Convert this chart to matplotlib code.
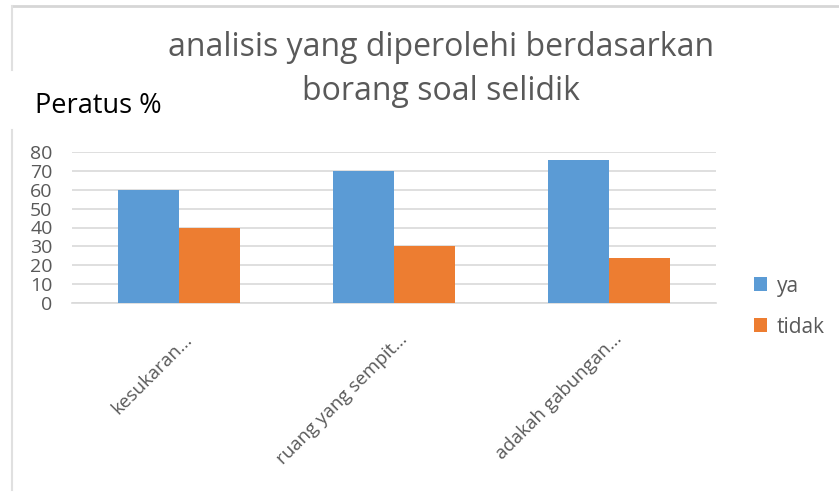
import numpy as np
import matplotlib
matplotlib.use("Agg")
import matplotlib.pyplot as plt
from matplotlib.lines import Line2D
from matplotlib.transforms import offset_copy

plt.rcParams['font.family'] = ['Open Sans', 'DejaVu Sans']

categories = ["kesukaran...", "ruang yang sempit...", "adakah gabungan..."]
ya = [60, 70, 76]
tidak = [40, 30, 24]
yticks = [0, 10, 20, 30, 40, 50, 60, 70, 80]

BLUE = "#5b9bd5"
ORANGE = "#ed7d31"
GRAY_TXT = "#595959"
GRID = "#d9d9d9"

W, H = 839, 495
fig = plt.figure(figsize=(W / 100, H / 100), dpi=100)

# plot area in pixels: x 72..716, y 152..303
ax = fig.add_axes([72 / W, 1 - 303 / H, (716 - 72) / W, (303 - 152) / H])

x = np.arange(len(categories))
bw = 0.284
ax.bar(x - bw / 2, ya, bw, color=BLUE, label="ya", zorder=3)
ax.bar(x + bw / 2, tidak, bw, color=ORANGE, label="tidak", zorder=3)

ax.set_xlim(-0.5, len(categories) - 0.5)
ax.set_ylim(0, 80)
ax.set_yticks(yticks)
ax.yaxis.grid(True, color=GRID, lw=1.2, zorder=0)
ax.tick_params(axis="y", length=0, pad=14, labelsize=14, labelcolor=GRAY_TXT)
ax.set_xticks(x)
ax.set_xticklabels([])
ax.tick_params(axis="x", length=0)
for s in ["top", "right", "left"]:
    ax.spines[s].set_visible(False)
ax.spines["bottom"].set_color(GRID)
ax.spines["bottom"].set_linewidth(1.2)

# slanted category labels, baseline end just right of each group centre
lab_tr = offset_copy(ax.get_xaxis_transform(), fig=fig, x=14, y=-37, units="dots")
for xi, cat in zip(x, categories):
    ax.text(xi, 0, cat, transform=lab_tr, rotation=45, rotation_mode="anchor",
            ha="right", va="baseline", fontsize=13.5, color=GRAY_TXT)

fig.text(441 / W, 1 - 48 / H, "analisis yang diperolehi berdasarkan",
         ha="center", va="center", fontsize=23, color=GRAY_TXT)
fig.text(441 / W, 1 - 91 / H, "borang soal selidik",
         ha="center", va="center", fontsize=23, color=GRAY_TXT)
fig.text(35 / W, 1 - 106 / H, "Peratus %", ha="left", va="center",
         fontsize=19.5, color="black")

leg = fig.legend(loc="upper left", bbox_to_anchor=(735 / W, 1 - 257 / H),
                 frameon=False, fontsize=15, handlelength=0.65, handleheight=0.65,
                 labelspacing=0.95, handletextpad=0.45)
for t in leg.get_texts():
    t.set_color(GRAY_TXT)

# outer frame lines (top and left)
fig.add_artist(Line2D([12 / W, 1], [1 - 6 / H, 1 - 6 / H], color="#d6d6d6", lw=2))
fig.add_artist(Line2D([12 / W, 12 / W], [1 - 6 / H, 1 - 70 / H], color="#e0e0e0", lw=1.5))
fig.add_artist(Line2D([12 / W, 12 / W], [1 - 130 / H, 1 - 490 / H], color="#e0e0e0", lw=1.5))

fig.savefig("out.png", dpi=100)
